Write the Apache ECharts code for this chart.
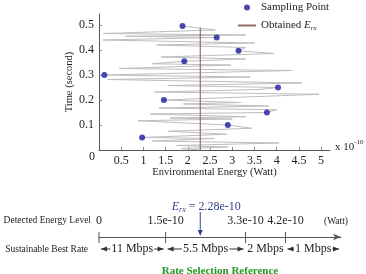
<!DOCTYPE html>
<html>
<head>
<meta charset="utf-8">
<script src="https://cdn.jsdelivr.net/npm/echarts@6/dist/echarts.min.js"></script>
<style>
  html, body { margin: 0; padding: 0; background: #fff; }
  #chart { width: 366px; height: 274px; }
</style>
</head>
<body>
<div id="chart"></div>
<script>
  const serif = '"Liberation Serif", "DejaVu Serif", serif'

  // axis ticks (energy in 1e-10 W, time in s)
  const xTicks = [0.5, 1, 1.5, 2, 2.5, 3, 3.5, 4, 4.5, 5]
  const yTicks = [0.1, 0.2, 0.3, 0.4, 0.5]

  // sampling points
  const sampleTime = [0.05, 0.1, 0.15, 0.2, 0.25, 0.3, 0.355, 0.397, 0.45, 0.496]
  const sampleEnergy = [0.97, 2.9, 3.78, 1.46, 4.03, 0.12, 1.92, 3.14, 2.65, 1.88]

  // measured energy trace (zig-zag)
  const traceEnergy = [2.3, 1.85, 2.9, 1.75, 4.05, 1.2, 2.6, 0.97, 2.87, 1.56, 3.44, 2.9, 0.88, 3.0, 1.6, 3.3,
    1.15, 3.78, 4.0, 1.35, 3.82, 1.9, 3.2, 1.46, 4.95, 1.25, 3.6, 4.03, 1.55, 4.57, 0.2, 3.4, 0.12, 4.35,
    0.45, 2.97, 1.2, 1.92, 3.3, 1.4, 3.94, 3.14, 3.3, 1.3, 3.5, 0.09, 2.65, 0.6, 3.3, 0.1, 2.62, 1.88]
  const traceTime = [0.0, 0.006, 0.012, 0.018, 0.028, 0.036, 0.046, 0.05, 0.063, 0.075, 0.087, 0.1, 0.117, 0.124, 0.128, 0.133,
    0.144, 0.15, 0.161, 0.168, 0.176, 0.184, 0.19, 0.2, 0.223, 0.232, 0.242, 0.25, 0.258, 0.268, 0.282, 0.292, 0.3, 0.318,
    0.326, 0.34, 0.345, 0.355, 0.364, 0.372, 0.386, 0.397, 0.41, 0.42, 0.428, 0.44, 0.45, 0.455, 0.46, 0.466, 0.48, 0.496]

  const obtainedE = 2.28
  const obtainedTop = 0.49

  // rate selection reference
  const levelValues = [0, 1.5, 3.3, 4.2]
  const levelLabels = ['0', '1.5e-10', '3.3e-10', '4.2e-10']
  const rateLabels = ['11 Mbps', '5.5 Mbps', '2 Mbps', '1 Mbps']
  const levelEnd = 5.45

  const chart = echarts.init(document.getElementById('chart'))

  const inkColor = '#222'
  const axisColor = '#555'
  const subRich = {
    n: { fontFamily: serif, fontSize: 11, color: inkColor },
    e: { fontFamily: serif, fontSize: 11, fontStyle: 'italic', color: inkColor },
    s: { fontFamily: serif, fontSize: 7, fontStyle: 'italic', color: inkColor, padding: [6, 0, 0, 0] }
  }

  function arrowHead (x, y, dir, color) {
    // dir: 1 right, -1 left, 2 down
    let pts
    if (dir === 2) pts = [[x, y], [x - 2.5, y - 6], [x + 2.5, y - 6]]
    else pts = [[x, y], [x - dir * 6, y - 2.5], [x - dir * 6, y + 2.5]]
    return { type: 'polygon', shape: { points: pts }, style: { fill: color } }
  }

  const rateData = rateLabels.map((r, i) => [levelValues[i], i + 1 < levelValues.length ? levelValues[i + 1] : levelEnd])

  chart.setOption({
    animation: false,
    legend: {
      orient: 'vertical',
      left: 237,
      top: 2,
      padding: 0,
      itemWidth: 18,
      itemHeight: 6,
      itemGap: 7,
      data: [
        { name: 'Sampling Point', icon: 'circle' },
        { name: 'Obtained Erx', itemStyle: { opacity: 0 } }
      ],
      formatter: name => name === 'Obtained Erx' ? '{n|Obtained }{e|E}{s|rx}' : '{n|' + name + '}',
      textStyle: { rich: subRich }
    },
    grid: [
      { left: 99, top: 14, width: 231, height: 136 },
      { left: 99, top: 226, width: 242, height: 22 }
    ],
    xAxis: [{
      type: 'value',
      min: 0,
      max: 5.2,
      name: 'Environmental Energy (Watt)',
      nameLocation: 'middle',
      nameGap: 17,
      nameMoveOverlap: false,
      nameTextStyle: { fontFamily: serif, fontSize: 10.5, color: inkColor },
      splitLine: { show: false },
      axisLine: { lineStyle: { color: axisColor } },
      axisTick: { inside: true, length: 3, customValues: xTicks, lineStyle: { color: '#888' } },
      axisLabel: { customValues: xTicks, margin: 5, fontFamily: serif, fontSize: 12, color: inkColor }
    }, {
      type: 'value',
      gridIndex: 1,
      min: 0,
      max: levelEnd,
      splitLine: { show: false },
      axisLine: { symbol: ['none', 'arrow'], symbolSize: [5, 8], lineStyle: { color: axisColor } },
      axisTick: { show: false },
      axisLabel: { show: false }
    }],
    yAxis: [{
      type: 'value',
      min: 0,
      max: 0.544,
      name: 'Time (second)',
      nameLocation: 'middle',
      nameGap: 24,
      nameMoveOverlap: false,
      nameTextStyle: { fontFamily: serif, fontSize: 10.5, color: inkColor },
      splitLine: { show: false },
      axisLine: { show: true, lineStyle: { color: axisColor } },
      axisTick: { show: true, inside: true, length: 3, customValues: yTicks, lineStyle: { color: '#888' } },
      axisLabel: { customValues: yTicks, margin: 5, fontFamily: serif, fontSize: 12, color: inkColor }
    }, {
      type: 'value',
      gridIndex: 1,
      min: -1,
      max: 1,
      show: false
    }],
    series: [{
      name: 'trace',
      type: 'line',
      data: traceEnergy.map((e, i) => [e, traceTime[i]]),
      showSymbol: false,
      silent: true,
      lineStyle: { color: '#bdbdbd', width: 1 },
      z: 1
    }, {
      name: 'Obtained Erx',
      type: 'line',
      data: [[obtainedE, 0], [obtainedE, obtainedTop]],
      symbol: 'none',
      itemStyle: { color: '#8f6f6f' },
      lineStyle: { color: '#8f6f6f', width: 1.2 },
      z: 2
    }, {
      name: 'Sampling Point',
      type: 'scatter',
      data: sampleEnergy.map((e, i) => [e, sampleTime[i]]),
      symbolSize: 6,
      itemStyle: { color: '#1c1c9c' },
      z: 3
    }, {
      // energy level ticks
      type: 'custom',
      xAxisIndex: 1,
      yAxisIndex: 1,
      data: levelValues.map(v => [v, 0]),
      renderItem (params, api) {
        const p = api.coord([api.value(0), 0])
        return {
          type: 'group',
          children: [
            { type: 'line', shape: { x1: p[0], y1: p[1] - 5, x2: p[0], y2: p[1] + 6 }, style: { stroke: axisColor, lineWidth: 1 } },
            { type: 'text', x: p[0], y: p[1] - 16, style: { text: levelLabels[params.dataIndex], font: '12px ' + serif, fill: inkColor, align: 'center', verticalAlign: 'middle' } }
          ]
        }
      }
    }, {
      // sustainable rates between levels
      type: 'custom',
      xAxisIndex: 1,
      yAxisIndex: 1,
      data: rateData,
      renderItem (params, api) {
        const a = api.coord([api.value(0), 0])
        const b = api.coord([api.value(1), 0])
        const y = a[1] + 12
        const x1 = a[0] + 2
        const x2 = b[0] - 2
        return {
          type: 'group',
          children: [
            { type: 'line', shape: { x1: x1, y1: y, x2: x2, y2: y }, style: { stroke: '#333', lineWidth: 1 } },
            arrowHead(x1, y, -1, '#333'),
            arrowHead(x2, y, 1, '#333'),
            { type: 'text', x: (x1 + x2) / 2, y: y, z2: 5, style: { text: rateLabels[params.dataIndex], font: '12px ' + serif, fill: inkColor, align: 'center', verticalAlign: 'middle', backgroundColor: '#fff', padding: [0, 1] } }
          ]
        }
      }
    }, {
      // obtained energy marker
      type: 'custom',
      xAxisIndex: 1,
      yAxisIndex: 1,
      data: [[obtainedE, 0]],
      renderItem (params, api) {
        const p = api.coord([api.value(0), 0])
        const blue = '#34428a'
        return {
          type: 'group',
          children: [
            { type: 'line', shape: { x1: p[0], y1: p[1] - 25, x2: p[0], y2: p[1] - 5 }, style: { stroke: blue, lineWidth: 1 } },
            arrowHead(p[0], p[1] - 1, 2, blue),
            {
              type: 'text',
              x: p[0] + 6,
              y: p[1] - 30,
              style: {
                text: '{e|E}{s|rx}{t| = 2.28e-10}',
                align: 'center',
                verticalAlign: 'middle',
                rich: {
                  e: { font: 'italic 12px ' + serif, fill: blue },
                  s: { font: 'italic 8px ' + serif, fill: blue, padding: [6, 0, 0, 0] },
                  t: { font: '12px ' + serif, fill: blue }
                }
              }
            }
          ]
        }
      }
    }],
    graphic: [
      { type: 'text', left: 89, top: 151, style: { text: '0', font: '12px ' + serif, fill: inkColor } },
      {
        type: 'text', left: 335, top: 139,
        style: {
          text: '{t|x 10}{p|-10}',
          rich: {
            t: { font: '11px ' + serif, fill: inkColor, padding: [4, 0, 0, 0] },
            p: { font: '7px ' + serif, fill: inkColor, padding: [0, 0, 6, 0] }
          }
        }
      },
      { type: 'text', x: 91, y: 220, style: { text: 'Detected Energy Level', font: '9.5px ' + serif, fill: inkColor, align: 'right', verticalAlign: 'middle' } },
      { type: 'text', x: 88, y: 249, style: { text: 'Sustainable Best Rate', font: '9.5px ' + serif, fill: inkColor, align: 'right', verticalAlign: 'middle' } },
      { type: 'text', x: 336, y: 221, style: { text: '(Watt)', font: '9.5px ' + serif, fill: inkColor, align: 'center', verticalAlign: 'middle' } },
      { type: 'text', x: 220, y: 271, style: { text: 'Rate Selection Reference', font: 'bold 11px ' + serif, fill: '#229a22', align: 'center', verticalAlign: 'middle' } }
    ]
  })
</script>
</body>
</html>
